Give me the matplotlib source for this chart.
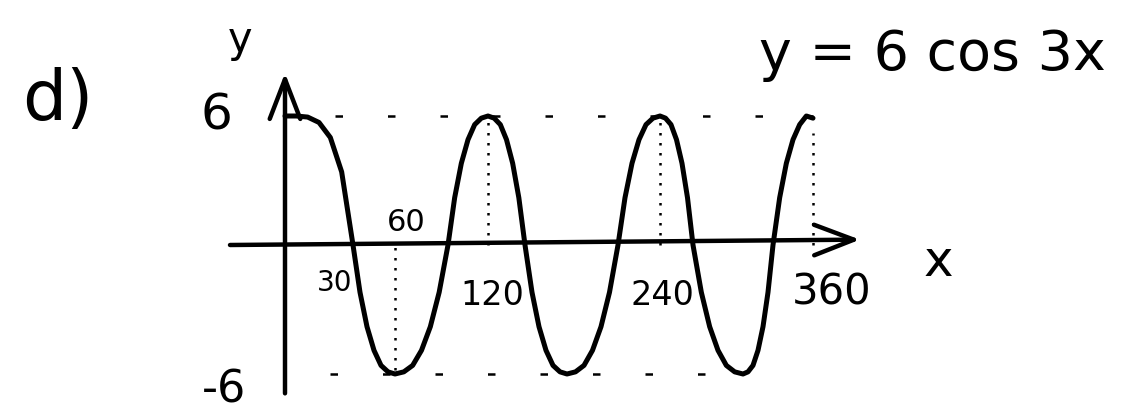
import numpy as np
import matplotlib.pyplot as plt

# curve, every 5 degrees (y = 6 cos 3x, hand drawn)
x_deg = list(range(0, 365, 5))
y_val = [6.0, 6.0, 5.95, 5.7, 5.0, 3.4, 0.0,
         -2.2, -3.8, -4.9, -5.6, -5.9, -6.0,
         -5.9, -5.6, -4.9, -3.8, -2.2, 0.0,
         2.2, 3.8, 4.9, 5.6, 5.9, 6.0,
         5.9, 5.6, 4.9, 3.8, 2.2, 0.0,
         -2.2, -3.8, -4.9, -5.6, -5.9, -6.0,
         -5.9, -5.6, -4.9, -3.8, -2.2, 0.0,
         2.2, 3.8, 4.9, 5.6, 5.9, 6.0,
         5.9, 5.6, 4.9, 3.8, 2.2, 0.0,
         -2.2, -3.8, -4.9, -5.6, -5.9, -6.0,
         -5.9, -5.6, -4.9, -3.8, -2.2, 0.0,
         2.2, 3.8, 4.9, 5.6, 6.0, 5.9]

amplitude = 6
dotted_x = [60, 120, 240, 360]
dotted_top = [0, 6, 6, 5.2]
dotted_bottom = [-5.8, 0, 0, 0]

x_labels = ["30", "60", "120", "240", "360"]
x_label_pos = [(335, 283), (406, 222), (492, 295), (662, 295), (832, 292)]
x_label_size = [20, 22, 24, 24, 30]

# the hand-drawn x axis is not evenly spaced: degree -> pixel nodes
scale_deg = [-200, 0, 30, 60, 90, 120, 150, 180, 210, 240, 270, 300, 330, 360, 600]
scale_px = [-9, 285, 353, 395, 448, 488, 525, 567, 618, 660, 693, 743, 773, 813, 1166]


def fwd(v):
    return np.interp(v, scale_deg, scale_px)


def inv(v):
    return np.interp(v, scale_px, scale_deg)


W, H = 1141, 411
fig = plt.figure(figsize=(W / 100, H / 100), dpi=100)
ax = fig.add_axes([0, 0, 1, 1])
ax.set_xscale("function", functions=(fwd, inv))
ax.set_xlim(inv(0), inv(W))
y0_px, unit_px = 245, 21.5
ax.set_ylim(-(H - y0_px) / unit_px, y0_px / unit_px)
ax.axis("off")

ink = "black"
arrow = dict(arrowstyle="->,head_length=1.3,head_width=0.5", lw=3.2,
             color=ink, mutation_scale=22, shrinkA=0, shrinkB=0)
# axes
ax.annotate("", xy=(0, 8.0), xytext=(0, -6.9), arrowprops=arrow)
ax.annotate("", xy=(inv(860), 0.25), xytext=(inv(230), 0), arrowprops=arrow)

# guide lines
ax.plot([inv(335), 360], [amplitude, amplitude], color=ink, lw=1.8,
        linestyle=(0, (3, 18)))
ax.plot([inv(330), inv(720)], [-amplitude, -amplitude], color=ink, lw=1.8,
        linestyle=(0, (3, 18)))
for xd, yt, yb in zip(dotted_x, dotted_top, dotted_bottom):
    ax.plot([xd, xd], [yb, yt], color=ink, lw=1.8, linestyle=(0, (1, 3)))

# the curve
ax.plot(x_deg, y_val, color=ink, lw=3.6, solid_capstyle="round",
        solid_joinstyle="round")

# text
def put(s, px, py, size):
    fig.text(px / W, 1 - py / H, s, fontsize=size, ha="center", va="center",
             color=ink)


put("d)", 58, 100, 50)
put("y", 240, 40, 30)
put("6", 216, 116, 36)
put("-6", 224, 390, 32)
put("y = 6 cos 3x", 932, 55, 40)
put("x", 938, 262, 36)
for s, (px, py), size in zip(x_labels, x_label_pos, x_label_size):
    put(s, px, py, size)

fig.savefig("out.png", dpi=100)
